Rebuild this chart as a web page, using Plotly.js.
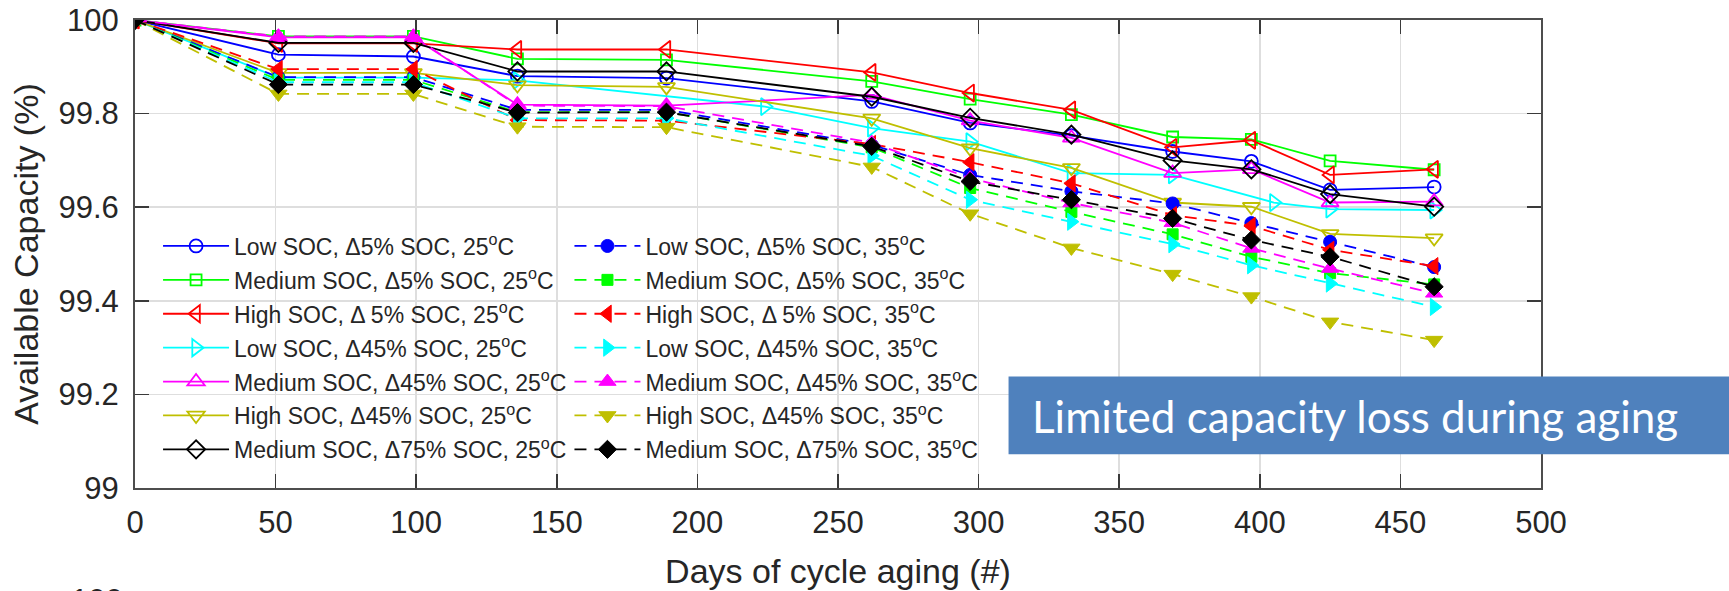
<!DOCTYPE html>
<html>
<head>
<meta charset="utf-8">
<script src="https://cdn.plot.ly/plotly-3.0.1.min.js"></script>
<style>html,body{margin:0;padding:0;background:#fff;}#chart{width:1729px;height:591px;}</style>
</head>
<body>
<div id="chart"></div>
<script>
// ---- data ----
const days = [0, 51, 99, 136, 189, 262, 297, 333, 369, 397, 425, 462];
const daysLow45at25 = [0, 51, 99, 136, 224, 262, 297, 333, 369, 405, 425, 462];

const low5_25   = [100, 99.926, 99.922, 99.880, 99.876, 99.826, 99.780, 99.753, 99.719, 99.698, 99.637, 99.643];
const med5_25   = [100, 99.965, 99.965, 99.917, 99.915, 99.869, 99.831, 99.798, 99.750, 99.745, 99.699, 99.680];
const high5_25  = [100, 99.950, 99.950, 99.937, 99.937, 99.888, 99.844, 99.808, 99.728, 99.743, 99.669, 99.681];
const low45_25  = [100, 99.877, 99.877, 99.871, 99.815, 99.769, 99.740, 99.673, 99.669, 99.610, 99.596, 99.594];
const med45_25  = [100, 99.963, 99.963, 99.819, 99.817, 99.840, 99.785, 99.748, 99.673, 99.681, 99.610, 99.612];
const high45_25 = [100, 99.887, 99.887, 99.861, 99.857, 99.790, 99.726, 99.684, 99.610, 99.601, 99.543, 99.534];
const med75_25  = [100, 99.951, 99.951, 99.890, 99.890, 99.836, 99.791, 99.755, 99.700, 99.681, 99.628, 99.601];

const low5_35   = [100, 99.878, 99.878, 99.808, 99.808, 99.733, 99.669, 99.634, 99.608, 99.566, 99.526, 99.472];
const med5_35   = [100, 99.872, 99.872, 99.803, 99.803, 99.728, 99.641, 99.590, 99.542, 99.494, 99.459, 99.435];
const high5_35  = [100, 99.895, 99.895, 99.786, 99.785, 99.735, 99.696, 99.651, 99.583, 99.560, 99.509, 99.474];
const low45_35  = [100, 99.867, 99.867, 99.790, 99.790, 99.710, 99.616, 99.569, 99.521, 99.476, 99.437, 99.387];
const med45_35  = [100, 99.965, 99.965, 99.817, 99.816, 99.738, 99.662, 99.609, 99.567, 99.512, 99.469, 99.416];
const high45_35 = [100, 99.842, 99.842, 99.772, 99.771, 99.686, 99.586, 99.513, 99.457, 99.409, 99.355, 99.316];
const med75_35  = [100, 99.862, 99.862, 99.802, 99.803, 99.730, 99.655, 99.616, 99.576, 99.530, 99.494, 99.430];

const names25 = [
  'Low SOC, Δ5% SOC, 25<sup>o</sup>C',
  'Medium SOC, Δ5% SOC, 25<sup>o</sup>C',
  'High SOC, Δ 5% SOC, 25<sup>o</sup>C',
  'Low SOC, Δ45% SOC, 25<sup>o</sup>C',
  'Medium SOC, Δ45% SOC, 25<sup>o</sup>C',
  'High SOC, Δ45% SOC, 25<sup>o</sup>C',
  'Medium SOC, Δ75% SOC, 25<sup>o</sup>C'
];
const names35 = [
  'Low SOC, Δ5% SOC, 35<sup>o</sup>C',
  'Medium SOC, Δ5% SOC, 35<sup>o</sup>C',
  'High SOC, Δ 5% SOC, 35<sup>o</sup>C',
  'Low SOC, Δ45% SOC, 35<sup>o</sup>C',
  'Medium SOC, Δ45% SOC, 35<sup>o</sup>C',
  'High SOC, Δ45% SOC, 35<sup>o</sup>C',
  'Medium SOC, Δ75% SOC, 35<sup>o</sup>C'
];
const xTickVals = [0, 50, 100, 150, 200, 250, 300, 350, 400, 450, 500];
const yTickVals = [99, 99.2, 99.4, 99.6, 99.8, 100];

// ---- styles ----
const colors = ['#0000ff', '#00ff00', '#ff0000', '#00ffff', '#ff00ff', '#bfbf00', '#000000'];
const symbols = ['circle', 'square', 'triangle-left', 'triangle-right', 'triangle-up', 'triangle-down', 'diamond'];
const sizes = [13, 11, 15, 15, 15, 15, 14];

const series25 = [low5_25, med5_25, high5_25, low45_25, med45_25, high45_25, med75_25];
const series35 = [low5_35, med5_35, high5_35, low45_35, med45_35, high45_35, med75_35];
const xs25 = [days, days, days, daysLow45at25, days, days, days];

const traces = [];
series25.forEach((ys, i) => {
  traces.push({
    x: xs25[i], y: ys, type: 'scatter', mode: 'lines+markers', name: names25[i],
    legend: 'legend', legendgroup: 'a' + i,
    line: {color: colors[i], width: 1.8},
    marker: {symbol: symbols[i] + '-open', size: sizes[i], color: colors[i], line: {color: colors[i], width: 1.8}}
  });
});
series35.forEach((ys, i) => {
  traces.push({
    x: days, y: ys, type: 'scatter', mode: 'lines+markers', name: names35[i],
    legend: 'legend2', legendgroup: 'b' + i,
    line: {color: colors[i], width: 1.8, dash: '12px,8px'},
    marker: {symbol: symbols[i], size: sizes[i], color: colors[i], line: {color: colors[i], width: 1}}
  });
});

const tickFont = {family: 'Liberation Sans, Arial, sans-serif', size: 31, color: '#262626'};
const titleFont = {family: 'Liberation Sans, Arial, sans-serif', size: 34, color: '#262626'};
const legFont = {family: 'Liberation Sans, Arial, sans-serif', size: 23, color: '#262626'};

const axisCommon = {
  showline: true, linecolor: '#4d4d4d', linewidth: 2, mirror: 'ticks',
  ticks: 'inside', ticklen: 14, tickwidth: 1.5, tickcolor: '#3a3a3a',
  showgrid: true, gridcolor: '#dedede', gridwidth: 1.5, zeroline: false,
  tickfont: tickFont, fixedrange: true, automargin: false
};

const legendCommon = {
  xref: 'paper', yref: 'paper', xanchor: 'left', yanchor: 'top',
  bgcolor: 'rgba(0,0,0,0)', borderwidth: 0, itemwidth: 66, font: legFont,
  tracegroupgap: 1, traceorder: 'grouped'
};

const layout = {
  width: 1729, height: 591,
  margin: {l: 135, r: 188, t: 20, b: 103},
  paper_bgcolor: '#ffffff', plot_bgcolor: '#ffffff',
  showlegend: true,
  xaxis: Object.assign({}, axisCommon, {
    range: [0, 500], tickvals: xTickVals, ticklabelstandoff: 6,
    title: {text: 'Days of cycle aging (#)', font: titleFont, standoff: 20}
  }),
  yaxis: Object.assign({}, axisCommon, {
    range: [99, 100], tickvals: yTickVals, ticklabelstandoff: 8,
    title: {text: 'Available Capacity (%)', font: titleFont, standoff: 10}
  }),
  legend: Object.assign({}, legendCommon, {x: 0.0164, y: 0.563}),
  legend2: Object.assign({}, legendCommon, {x: 0.309, y: 0.563}),
  shapes: [
    {type: 'rect', xref: 'paper', yref: 'paper', x0: 0.004, x1: 0.603, y0: 0.035, y1: 0.552,
     fillcolor: '#ffffff', line: {width: 0}, layer: 'between'},
    {type: 'rect', xref: 'paper', yref: 'paper', x0: 0.6213, x1: 1.14, y0: 0.0721, y1: 0.2381,
     fillcolor: '#4f81bd', line: {width: 0}, layer: 'above'}
  ],
  annotations: [
    {xref: 'paper', yref: 'paper', x: 0.6366, y: 0.154, xanchor: 'left', yanchor: 'middle',
     text: 'Limited capacity loss during aging', showarrow: false,
     font: {family: 'Lato, Open Sans, sans-serif', size: 44, color: '#ffffff'}},
    {xref: 'paper', yref: 'paper', x: -0.027, y: -0.198, xanchor: 'center', yanchor: 'top',
     text: '100', showarrow: false, font: tickFont}
  ]
};

Plotly.newPlot('chart', traces, layout, {staticPlot: true, displayModeBar: false});
</script>
</body>
</html>
